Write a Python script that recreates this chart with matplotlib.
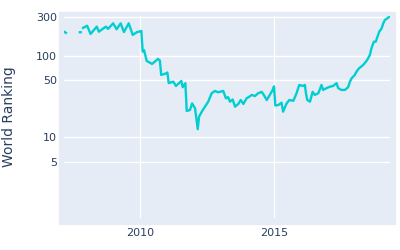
import numpy as np
import matplotlib.pyplot as plt
from matplotlib.patches import Rectangle

# world ranking over time (NaN = gap in the record)
years = [2007.18, 2007.24, np.nan, 2007.76, 2007.79, np.nan,
         2007.88, 2008.03, 2008.16, 2008.39, 2008.47, 2008.62, 2008.73, 2008.81,
         2009.00, 2009.13, 2009.28, 2009.40, 2009.58, 2009.73, 2009.88, 2010.05,
         2010.10, 2010.15, 2010.25, 2010.45, 2010.67, 2010.74, 2010.79, 2010.94,
         2011.02, 2011.07, 2011.24, 2011.34, 2011.54, 2011.59, 2011.69, 2011.74,
         2011.86, 2011.94, 2012.05, 2012.15, 2012.20, 2012.30, 2012.42, 2012.54,
         2012.67, 2012.79, 2012.91, 2013.10, 2013.20, 2013.28, 2013.35, 2013.45,
         2013.54, 2013.66, 2013.75, 2013.85, 2013.97, 2014.07, 2014.16, 2014.28,
         2014.40, 2014.53, 2014.61, 2014.72, 2014.81, 2014.94, 2014.99, 2015.04,
         2015.15, 2015.27, 2015.33, 2015.46, 2015.56, 2015.71, 2015.83, 2015.93,
         2016.06, 2016.14, 2016.18, 2016.23, 2016.33, 2016.43, 2016.51, 2016.64,
         2016.76, 2016.82, 2016.95, 2017.07, 2017.19, 2017.32, 2017.38, 2017.50,
         2017.63, 2017.75, 2017.82, 2017.88, 2018.00, 2018.06, 2018.16, 2018.31,
         2018.41, 2018.46, 2018.56, 2018.62, 2018.71, 2018.78, 2018.91, 2019.00,
         2019.06, 2019.12, 2019.21, 2019.28]
ranks = [195, 190, np.nan, 193, 193, np.nan,
         218, 232, 184, 226, 196, 213, 226, 212,
         248, 210, 248, 194, 248, 179, 193, 200,
         112, 117, 86, 79, 91, 87, 58, 60,
         62, 46, 48, 42.5, 49, 41, 46, 21,
         21.6, 26, 22.6, 12.6, 17.9, 20.6, 23.7, 27.3,
         34.6, 36.9, 35.6, 36.9, 30, 31, 27.3, 29,
         23.7, 25.6, 28.6, 25.6, 30, 31.4, 33, 32,
         34.6, 36, 33, 28.6, 32, 38, 42, 24.5,
         24.8, 26.5, 20.6, 26, 28.6, 28, 34.6, 43.7,
         42.5, 43.7, 34.6, 28.6, 27.3, 36, 33, 34.6,
         43.7, 38, 40, 41.6, 42.5, 46, 40, 38,
         38, 41, 48, 52.7, 58, 63.5, 70, 76.7,
         84, 88.4, 101.7, 123, 148, 148, 196, 216,
         248, 273, 286, 298]

yticks = [5, 10, 50, 100, 300]
xticks = [2010, 2015]

txt = '#2a3f5f'

fig = plt.figure(figsize=(4, 2.5), dpi=100)
# plot background is a bit larger than the gridded region
fig.add_artist(Rectangle((59 / 400, 1 - 224 / 250), 336 / 400, 212 / 250,
                         transform=fig.transFigure, color='#E5ECF6', zorder=0))
ax = fig.add_axes([64 / 400, 1 - 218 / 250, 326 / 400, 202 / 250])
ax.set_facecolor('none')

ax.plot(years, ranks, color='#00CED1', lw=1.7, zorder=3)

ax.set_yscale('log')
ax.set_ylim(1.03, 305)
ax.set_xlim(2007.17, 2019.31)
ax.set_yticks(yticks)
ax.set_yticklabels([str(t) for t in yticks])
ax.minorticks_off()
ax.set_xticks(xticks)
ax.set_xticklabels([str(t) for t in xticks])
ax.grid(True, color='white', lw=1)
ax.set_axisbelow(True)
for s in ax.spines.values():
    s.set_visible(False)
ax.tick_params(axis='y', length=0, pad=5, labelsize=8, labelcolor=txt)
ax.tick_params(axis='x', length=0, pad=7, labelsize=8, labelcolor=txt)

fig.text(9 / 400, 1 - 117 / 250, 'World Ranking', rotation=90, ha='center',
         va='center', fontsize=10, color=txt)

fig.savefig('out.png', dpi=100)
